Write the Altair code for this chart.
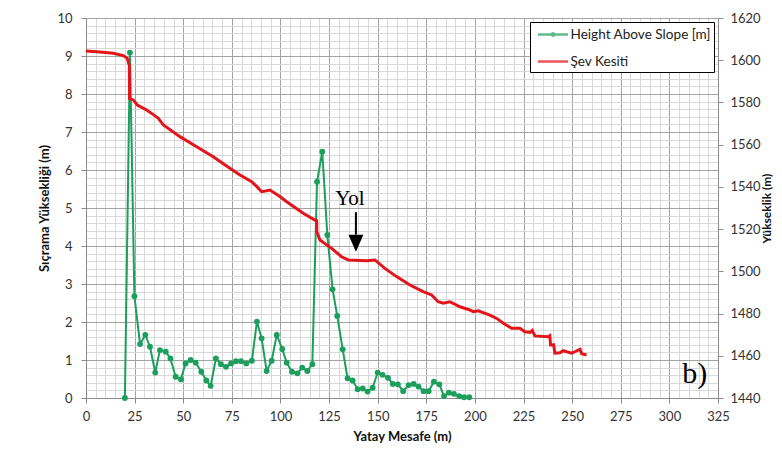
import altair as alt
import pandas as pd

# ---------------- data ----------------
series_names = ["Height Above Slope [m]", "Şev Kesiti"]
series_colors = ["#1C9E5C", "#E3151B"]

green_x = [20.0, 22.6, 24.9, 27.8, 30.5, 32.9, 35.6, 38.0, 41.0, 43.4,
           46.1, 48.8, 51.2, 53.8, 56.4, 59.3, 61.9, 64.1, 66.8, 69.4,
           72.0, 74.6, 77.1, 79.7, 82.4, 85.3, 87.9, 90.3, 92.9, 95.5,
           98.1, 100.9, 103.2, 105.9, 108.7, 111.2, 113.8, 116.4, 118.8, 121.5,
           124.1, 126.8, 129.2, 132.0, 134.5, 137.1, 139.7, 142.3, 144.8, 147.4,
           150.0, 152.5, 155.3, 157.8, 160.4, 163.1, 165.9, 168.5, 171.0, 173.6,
           176.2, 178.9, 181.7, 184.1, 186.6, 189.2, 191.9, 194.4, 197.1]
green_y = [0.0, 9.09, 2.68, 1.42, 1.66, 1.35, 0.67, 1.26, 1.22, 1.04,
           0.56, 0.49, 0.91, 1.0, 0.93, 0.69, 0.46, 0.32, 1.04, 0.89,
           0.82, 0.91, 0.97, 0.97, 0.91, 0.98, 2.01, 1.57, 0.71, 0.98,
           1.66, 1.29, 0.93, 0.69, 0.65, 0.80, 0.71, 0.89, 5.69, 6.48,
           4.29, 2.86, 2.16, 1.28, 0.52, 0.46, 0.23, 0.25, 0.17, 0.27,
           0.67, 0.61, 0.53, 0.37, 0.36, 0.18, 0.34, 0.37, 0.30, 0.18,
           0.18, 0.43, 0.36, 0.05, 0.14, 0.11, 0.05, 0.02, 0.02]

red_x = [0.0, 7.2, 14.0, 19.2, 21.2, 22.3, 22.4, 24.3, 26.4, 31.2,
         35.0, 37.2, 39.8, 48.3, 56.9, 65.4, 74.0, 79.2, 85.2, 88.0,
         90.3, 92.0, 94.6, 99.7, 103.2, 111.7, 117.7, 118.6, 118.7, 120.3,
         126.3, 131.4, 134.9, 144.3, 148.6, 153.7, 159.7, 166.6, 173.4, 177.7,
         181.1, 183.7, 187.1, 192.3, 197.4, 199.1, 201.7, 207.7, 211.2, 214.6,
         218.9, 223.1, 225.7, 228.3, 229.5, 230.8, 237.7, 238.5, 238.9, 240.5,
         241.1, 243.7, 245.4, 249.7, 251.4, 254.0, 254.9, 257.4]
red_elev = [1604.4, 1603.9, 1603.3, 1602.2, 1600.9, 1597.5, 1581.8, 1581.2, 1578.8, 1576.4,
            1574.0, 1572.5, 1569.3, 1563.8, 1559.0, 1554.3, 1548.8, 1545.6, 1542.5, 1540.0,
            1537.7, 1538.0, 1538.5, 1535.4, 1533.0, 1527.5, 1524.3, 1524.0, 1518.8, 1514.8,
            1510.9, 1506.9, 1505.4, 1505.0, 1505.4, 1501.4, 1497.5, 1493.5, 1490.4, 1488.8,
            1485.6, 1484.9, 1485.6, 1483.2, 1481.7, 1480.9, 1481.3, 1479.3, 1477.7, 1475.4,
            1473.0, 1473.0, 1471.4, 1471.1, 1472.0, 1469.4, 1469.0, 1469.5, 1465.1, 1465.2,
            1461.2, 1461.4, 1462.4, 1461.2, 1461.9, 1463.1, 1461.0, 1460.4]

x_ticks = list(range(0, 326, 5))
y_ticks = [round(i * 0.2, 1) for i in range(51)]
y2_ticks = list(range(1440, 1621, 20))

# annotations
label_x = [135.7, 313.1]
label_y = [5.08, 0.39]
label_text = ["Yol", "b)"]
label_size = [21, 30]
arrow_x = [138.8]
arrow_top = [4.89]
arrow_base = [4.30]
arrow_head_y = [4.07]

# ---------------- chart ----------------
FONT = "Lato"
MAJOR = "#A3A3A3"
MINOR = "#D9D9D9"
AX = "#8C8C8C"

green_df = pd.DataFrame({"x": green_x, "y": green_y})
red_df = pd.DataFrame({"x": red_x, "elev": red_elev})
label_df = pd.DataFrame({"x": label_x, "y": label_y, "text": label_text, "size": label_size})
arrow_df = pd.DataFrame({"x": arrow_x, "y": arrow_top, "y2": arrow_base, "yh": arrow_head_y})
legend_df = pd.DataFrame({"series": series_names})

xscale = alt.Scale(domain=[0, 325], nice=False, zero=False)
yscale = alt.Scale(domain=[0, 10], nice=False, zero=False)
y2scale = alt.Scale(domain=[1440, 1620], nice=False, zero=False)

x_axis = alt.Axis(
    values=x_ticks,
    labelExpr="datum.value % 25 === 0 ? datum.label : ''",
    labelOverlap=False, labelFlush=False,
    grid=True, gridWidth=1,
    gridColor={"condition": {"test": "datum.value % 25 === 0", "value": MAJOR}, "value": MINOR},
    tickOpacity={"condition": {"test": "datum.value % 25 === 0", "value": 1}, "value": 0},
    tickSize=5, tickColor=AX, domainColor=AX,
    labelFont=FONT, labelFontSize=13, labelColor="#333333", labelPadding=7,
    title="Yatay Mesafe (m)", titleFont=FONT, titleFontSize=13, titleFontWeight="bold",
    titleColor="#111111", titlePadding=7,
)

int_test = "abs(datum.value - round(datum.value)) < 0.001"
y_axis = alt.Axis(
    values=y_ticks,
    labelExpr=f"{int_test} ? format(datum.value, 'd') : ''",
    labelOverlap=False, labelFlush=False,
    grid=True, gridWidth=1,
    gridColor={"condition": {"test": int_test, "value": MAJOR}, "value": MINOR},
    tickOpacity={"condition": {"test": int_test, "value": 1}, "value": 0},
    tickSize=5, tickColor=AX, domainColor=AX,
    labelFont=FONT, labelFontSize=13, labelColor="#333333", labelPadding=9,
    title="Sıçrama Yüksekliği (m)", titleFont=FONT, titleFontSize=13, titleFontWeight="bold",
    titleColor="#111111", titlePadding=5,
)

y2_axis = alt.Axis(
    orient="right", values=y2_ticks, grid=False, format="d",
    tickSize=5, tickColor=AX, domainColor=AX,
    labelFont=FONT, labelFontSize=13, labelColor="#333333", labelPadding=7,
    labelFlush=False, labelOverlap=False,
    title="Yükseklik (m)", titleFont=FONT, titleFontSize=12, titleFontWeight="bold",
    titleColor="#111111", titlePadding=1, titleAngle=270, titleBaseline="top",
)

X = alt.X("x:Q", scale=xscale, axis=x_axis)


def Y(field):
    return alt.Y(field, scale=yscale, axis=y_axis)


green = alt.Chart(green_df).mark_line(
    color=series_colors[0], strokeWidth=2,
    point=alt.OverlayMarkDef(filled=True, size=34, color=series_colors[0], opacity=1),
).encode(x=X, y=Y("y:Q"))

texts = alt.Chart(label_df).mark_text(
    font="Liberation Serif", color="#000000", align="center", baseline="alphabetic"
).encode(
    x=X, y=Y("y:Q"),
    text="text:N",
    size=alt.Size("size:Q", scale=None, legend=None),
)

shaft = alt.Chart(arrow_df).mark_rule(color="#000000", strokeWidth=2).encode(
    x=X, y=Y("y:Q"), y2="y2:Q",
)

head = alt.Chart(arrow_df).mark_point(
    shape="M-0.88,-1L0.88,-1L0,1Z", filled=True, color="#000000", size=289, opacity=1
).encode(x=X, y=Y("yh:Q"))

green_sym = "M-1.875,0L1.875,0M-0.15,0A0.15,0.15 0 1,1 0.15,0A0.15,0.15 0 1,1 -0.15,0"
red_sym = "M-1.875,0L1.875,0"

leg = alt.Legend(
    orient="none", legendX=444, legendY=4, title=None,
    strokeColor="#000000", fillColor="#FFFFFF", padding=3,
    symbolSize=256, symbolStrokeWidth=2.6, symbolOffset=10.5,
    labelOffset=8, rowPadding=10, labelFont=FONT, labelFontSize=13.6,
    labelColor="#222222", labelLimit=400,
)

legend_layer = alt.Chart(legend_df).transform_filter("false").mark_point(filled=False).encode(
    color=alt.Color("series:N", scale=alt.Scale(domain=series_names, range=series_colors), legend=leg),
    shape=alt.Shape("series:N", scale=alt.Scale(domain=series_names, range=[green_sym, red_sym]), legend=leg),
)

red = alt.Chart(red_df).mark_line(color=series_colors[1], strokeWidth=3).encode(
    x=X,
    y=alt.Y("elev:Q", scale=y2scale, axis=y2_axis),
)

left = alt.layer(green, texts, shaft, head, legend_layer)

chart = alt.layer(left, red).resolve_scale(y="independent").properties(
    width=632, height=380,
    padding={"left": 78, "top": 10, "right": 56, "bottom": 55},
    autosize=alt.AutoSizeParams(type="none"),
    background="#FFFFFF",
).configure_view(stroke="transparent")

chart.save("out.html", embed_options={"renderer": "svg", "actions": False})
